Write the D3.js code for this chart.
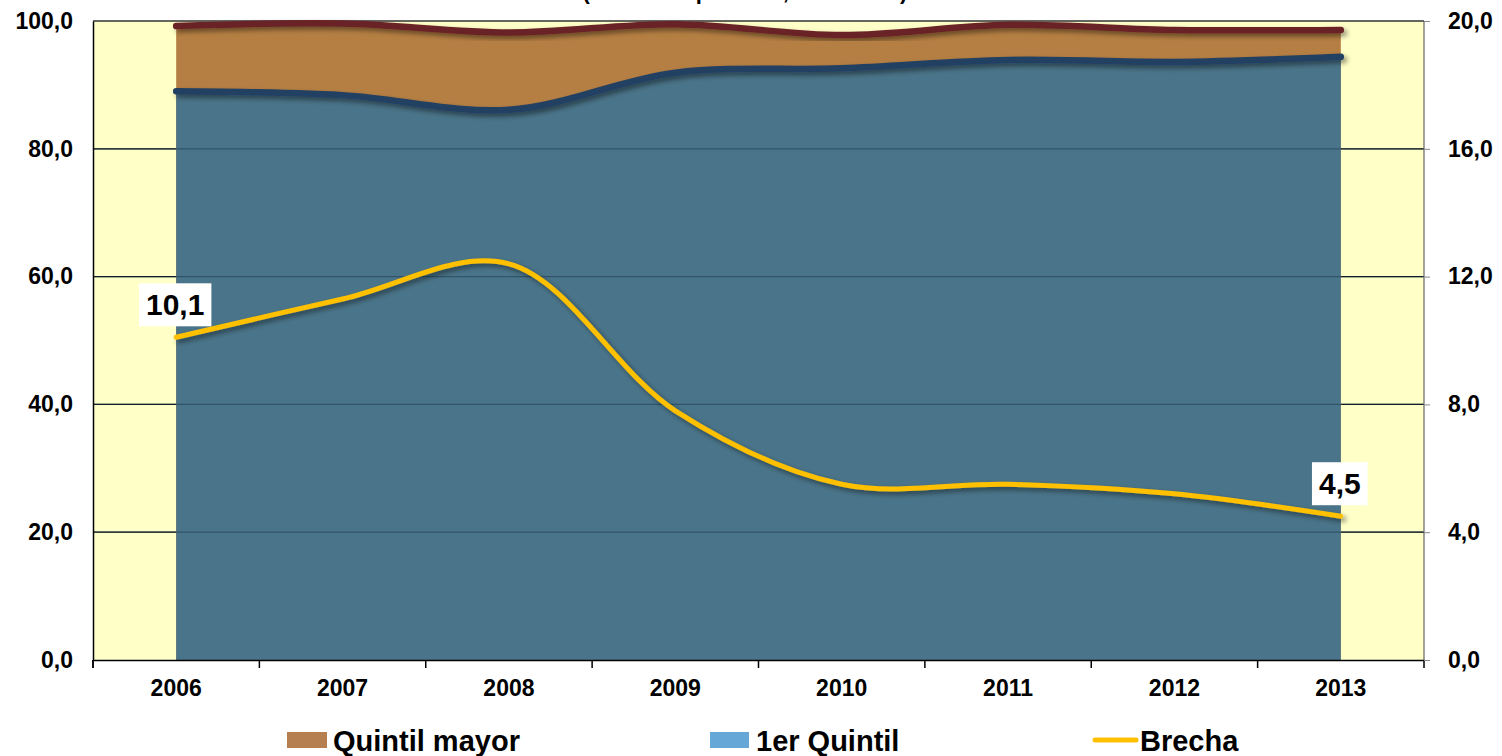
<!DOCTYPE html>
<html><head><meta charset="utf-8">
<script src="https://cdn.jsdelivr.net/npm/d3@7"></script>
<style>body{margin:0;background:#fff}svg{display:block;font-family:"Liberation Sans",Arial,sans-serif}</style>
</head><body>
<svg id="c" width="1502" height="756"></svg>
<script>
const years = ["2006","2007","2008","2009","2010","2011","2012","2013"];
const quintilMayor = [99.2, 99.6, 98.2, 99.5, 97.8, 99.4, 98.6, 98.6];
const primerQuintil = [89.0, 88.4, 86.1, 91.9, 92.6, 93.9, 93.6, 94.4];
const brecha = [10.1, 11.3, 12.4, 7.8, 5.5, 5.5, 5.2, 4.5];
const leftTicks = [0, 20, 40, 60, 80, 100];
const rightTicks = [0, 4, 8, 12, 16, 20];
const title = "(Tasa neta por área, 2006-2013)";
const legendItems = ["Quintil mayor", "1er Quintil", "Brecha"];

const svg = d3.select("#c");
const L = 93, R = 1424, T = 21, B = 660;
const x = d3.scaleBand().domain(years).range([L, R]).padding(0);
const cx = d => x(d) + x.bandwidth() / 2;
const yL = d3.scaleLinear().domain([0, 100]).range([B, T]);
const yR = d3.scaleLinear().domain([0, 20]).range([B, T]);
const fmt = v => d3.format(".1f")(v).replace(".", ",");
const AF = 23;

const defs = svg.append("defs");
const f = defs.append("filter").attr("id", "sh").attr("x", "-10%").attr("y", "-50%").attr("width", "120%").attr("height", "200%");
f.append("feDropShadow").attr("dx", 3).attr("dy", 3).attr("stdDeviation", 2.5).attr("flood-color", "#000").attr("flood-opacity", 0.45);

// title (cut at top, as in the reference)
svg.append("text").attr("x", 745).attr("y", -1).attr("text-anchor", "middle")
  .attr("font-size", 22).attr("font-weight", "bold").text(title);

svg.append("rect").attr("x", L).attr("y", T).attr("width", R - L).attr("height", B - T).attr("fill", "#FFFFC8");

const grid = leftTicks.filter(v => v > 0 && v < 100);
svg.append("g").selectAll("line").data(grid).join("line")
  .attr("x1", L).attr("x2", R).attr("y1", d => yL(d)).attr("y2", d => yL(d))
  .attr("stroke", "#000").attr("stroke-width", 1.2);

const curve = d3.curveCatmullRom.alpha(0.5);
const idx = d3.range(years.length);
const areaTop = d3.area().x(i => cx(years[i])).y0(B).y1(i => yL(quintilMayor[i])).curve(curve);
const areaBot = d3.area().x(i => cx(years[i])).y0(B).y1(i => yL(primerQuintil[i])).curve(curve);
svg.append("path").attr("d", areaTop(idx)).attr("fill", "#B57F43");
svg.append("path").attr("d", areaBot(idx)).attr("fill", "#4A7489");

svg.append("g").selectAll("line").data(grid).join("line")
  .attr("x1", L).attr("x2", R).attr("y1", d => yL(d)).attr("y2", d => yL(d))
  .attr("stroke", "#1d3a52").attr("stroke-opacity", 0.55).attr("stroke-width", 1.2);

svg.append("line").attr("x1", L).attr("x2", R).attr("y1", T).attr("y2", T).attr("stroke", "#333").attr("stroke-width", 1.5);
svg.append("line").attr("x1", R).attr("x2", R).attr("y1", T).attr("y2", B).attr("stroke", "#666").attr("stroke-width", 1.2);

const lineL = arr => d3.line().x(i => cx(years[i])).y(i => yL(arr[i])).curve(curve)(idx);
svg.append("path").attr("d", lineL(quintilMayor)).attr("fill", "none").attr("stroke", "#692326")
  .attr("stroke-width", 6.5).attr("stroke-linecap", "round").attr("filter", "url(#sh)");
svg.append("path").attr("d", lineL(primerQuintil)).attr("fill", "none").attr("stroke", "#243F62")
  .attr("stroke-width", 6.5).attr("stroke-linecap", "round").attr("filter", "url(#sh)");
const lineR = d3.line().x(i => cx(years[i])).y(i => yR(brecha[i])).curve(curve);
svg.append("path").attr("d", lineR(idx)).attr("fill", "none").attr("stroke", "#FFC000")
  .attr("stroke-width", 5).attr("stroke-linecap", "round").attr("filter", "url(#sh)");

const styleText = sel => sel.attr("font-size", AF).attr("font-weight", "bold").attr("fill", "#000").attr("font-family", "Liberation Sans, Arial");

const ax = svg.append("g").attr("transform", `translate(0,${B})`)
  .call(d3.axisBottom(x).tickSize(0).tickPadding(20));
ax.select(".domain").attr("stroke", "#000").attr("stroke-width", 1.5);
styleText(ax.selectAll("text"));
const bounds = years.map(y => x(y)).concat([R]);
svg.append("g").selectAll("line").data(bounds).join("line")
  .attr("x1", d => d).attr("x2", d => d).attr("y1", B).attr("y2", B + 8).attr("stroke", "#000").attr("stroke-width", 1.5);

const ay = svg.append("g").attr("transform", `translate(${L},0)`)
  .call(d3.axisLeft(yL).tickValues(leftTicks).tickFormat(fmt).tickSize(0).tickPadding(20));
ay.select(".domain").attr("stroke", "#000").attr("stroke-width", 1.5);
styleText(ay.selectAll("text"));
svg.append("line").attr("x1", L).attr("x2", L).attr("y1", B).attr("y2", B + 8).attr("stroke", "#000").attr("stroke-width", 1.5);

const ar = svg.append("g").attr("transform", `translate(${R},0)`)
  .call(d3.axisRight(yR).tickValues(rightTicks).tickFormat(fmt).tickSize(6).tickPadding(18));
ar.select(".domain").attr("stroke", "none");
ar.selectAll(".tick line").attr("stroke", "#888");
styleText(ar.selectAll("text"));

const labels = [0, years.length - 1];
const lg = svg.append("g").selectAll("g").data(labels).join("g")
  .attr("transform", i => `translate(${cx(years[i]) - 1},${yR(brecha[i]) - 33})`);
lg.each(function(i) {
  const g = d3.select(this);
  const t = g.append("text").attr("text-anchor", "middle").attr("font-size", 30).attr("font-weight", "bold")
    .attr("dy", "0.35em").attr("fill", "#000").text(fmt(brecha[i]));
  const bb = t.node().getBBox();
  g.insert("rect", "text").attr("x", bb.x - 7).attr("y", -21).attr("width", bb.width + 14).attr("height", 43).attr("fill", "#fff");
});

const leg = svg.append("g");
leg.append("rect").attr("x", 287).attr("y", 732).attr("width", 40).attr("height", 16).attr("fill", "#B57F4F");
leg.append("text").attr("x", 333).attr("y", 751).attr("font-size", 29).attr("font-weight", "bold").text(legendItems[0]);
leg.append("rect").attr("x", 710).attr("y", 732).attr("width", 39).attr("height", 16).attr("fill", "#65A8D8");
leg.append("text").attr("x", 756).attr("y", 751).attr("font-size", 29).attr("font-weight", "bold").text(legendItems[1]);
leg.append("line").attr("x1", 1095).attr("x2", 1136).attr("y1", 740).attr("y2", 740).attr("stroke", "#FFC000").attr("stroke-width", 5).attr("stroke-linecap", "round");
leg.append("text").attr("x", 1140).attr("y", 751).attr("font-size", 29).attr("font-weight", "bold").text(legendItems[2]);
</script>
</body></html>
